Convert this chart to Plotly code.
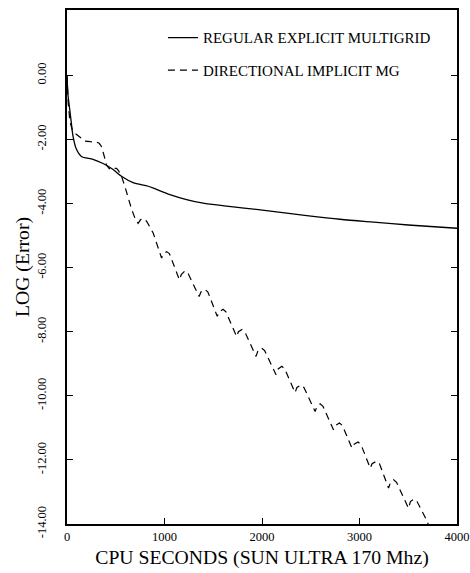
import plotly.graph_objects as go

# ---- data ----
explicit_t = [0, 10, 28, 45, 62, 96, 148, 267, 370, 473, 559, 678, 832, 918, 1055,
              1226, 1397, 1637, 1962, 2459, 2800, 3144, 3500, 4000]
explicit_v = [0.0, -0.6, -1.06, -1.5, -1.9, -2.3, -2.53, -2.62, -2.75, -2.94, -3.15,
              -3.35, -3.46, -3.56, -3.72, -3.875, -3.99, -4.08, -4.19, -4.375, -4.49,
              -4.58, -4.67, -4.77]

implicit_t = [0, 12, 30, 55, 80, 113, 150, 182, 240, 302, 330, 353, 380, 405, 430, 456,
              485, 508, 530, 559, 593, 627, 660, 696, 729, 755, 785, 816, 884,
              970, 988, 1021, 1050,
              1153, 1172, 1210, 1240,
              1355, 1374, 1415, 1445,
              1541, 1560, 1600, 1630,
              1740, 1758, 1795, 1825,
              1939, 1958, 1997, 2027,
              2144, 2163, 2203, 2233,
              2339, 2358, 2400, 2430,
              2545, 2564, 2596, 2626,
              2733, 2752, 2795, 2825,
              2922, 2941, 2985, 3015,
              3110, 3129, 3175, 3205,
              3298, 3317, 3350, 3380,
              3503, 3522, 3560, 3590,
              3692, 3720]
implicit_v = [0.0, -0.85, -1.45, -1.7, -1.8, -1.88, -1.98, -2.05, -2.07, -2.08, -2.12,
              -2.22, -2.5, -2.8, -2.9, -2.94, -2.9, -2.9, -2.98, -3.15, -3.46, -3.85,
              -4.15, -4.45, -4.62, -4.5, -4.47, -4.55, -4.92,
              -5.70, -5.58, -5.50, -5.56,
              -6.38, -6.22, -6.10, -6.17,
              -6.90, -6.76, -6.68, -6.76,
              -7.52, -7.38, -7.30, -7.38,
              -8.15, -8.00, -7.93, -8.01,
              -8.77, -8.60, -8.51, -8.59,
              -9.34, -9.17, -9.08, -9.16,
              -9.90, -9.74, -9.66, -9.74,
              -10.49, -10.33, -10.25, -10.33,
              -11.06, -10.93, -10.85, -10.93,
              -11.63, -11.52, -11.44, -11.52,
              -12.26, -12.12, -12.04, -12.12,
              -12.88, -12.71, -12.62, -12.70,
              -13.51, -13.30, -13.22, -13.30,
              -13.90, -14.15]

x_ticks = [0, 1000, 2000, 3000, 4000]
x_tick_labels = ["0", "1000", "2000", "3000", "4000"]
y_ticks = [0, -2, -4, -6, -8, -10, -12, -14]
y_tick_labels = ["0.00", "-2.00", "-4.00", "-6.00", "-8.00", "-10.00", "-12.00", "-14.00"]

FONT = "Liberation Serif, Times New Roman, serif"

fig = go.Figure()
fig.add_trace(go.Scatter(x=explicit_t, y=explicit_v, mode="lines",
                         name="REGULAR EXPLICIT MULTIGRID", legendgroup="a",
                         line=dict(color="black", width=1.3, shape="spline", smoothing=0.8)))
fig.add_trace(go.Scatter(x=implicit_t, y=implicit_v, mode="lines",
                         name="DIRECTIONAL IMPLICIT MG", legendgroup="b",
                         line=dict(color="black", width=1.2, dash="7px,5px")))

fig.update_layout(
    width=470, height=573,
    margin=dict(l=67, r=13, t=10, b=49, autoexpand=False),
    plot_bgcolor="white", paper_bgcolor="white",
    font=dict(family=FONT, color="black"),
    showlegend=True,
    legend=dict(x=0.246, y=0.978, xanchor="left", yanchor="top",
                bgcolor="rgba(0,0,0,0)", font=dict(size=15, family=FONT),
                tracegroupgap=10),
)
fig.update_xaxes(
    range=[0, 4000], tickvals=x_ticks, ticktext=x_tick_labels,
    ticks="inside", ticklen=6, tickwidth=1.2, tickcolor="black",
    showline=True, linewidth=1.5, linecolor="black", mirror=True,
    showgrid=False, zeroline=False, automargin=False,
    tickfont=dict(size=12.5, family=FONT),
    title=dict(text="CPU SECONDS (SUN ULTRA 170 Mhz)", font=dict(size=19.7, family=FONT),
               standoff=7),
)
fig.update_yaxes(
    range=[-14, 2.04], tickvals=y_ticks, ticktext=y_tick_labels, tickangle=-90,
    ticks="inside", ticklen=6, tickwidth=1.2, tickcolor="black",
    showline=True, linewidth=1.5, linecolor="black", mirror="ticks",
    showgrid=False, zeroline=False, automargin=False,
    tickfont=dict(size=12.5, family=FONT), ticklabelstandoff=14,
    title=dict(text="LOG (Error)", font=dict(size=19.7, family=FONT), standoff=0),
)

fig.write_html("out.html", config={"displayModeBar": False},
               post_script="document.body.style.margin='0';document.body.style.padding='0';")
